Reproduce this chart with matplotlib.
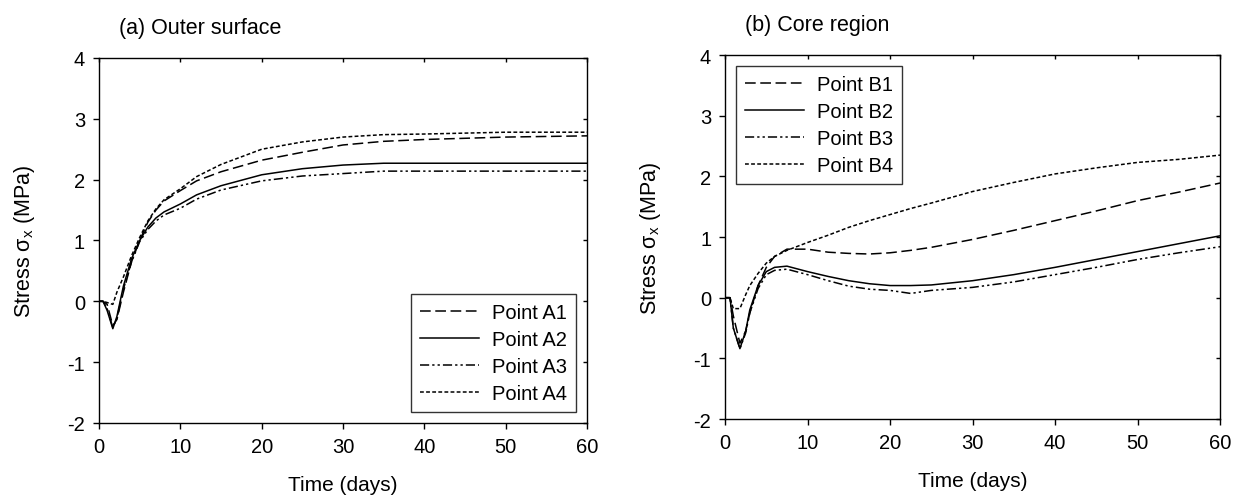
import matplotlib
matplotlib.use("Agg")
import matplotlib.pyplot as plt

plt.rcParams["font.family"] = ["Liberation Sans", "DejaVu Sans"]
plt.rcParams["mathtext.fontset"] = "custom"
plt.rcParams["mathtext.rm"] = "Liberation Sans"
plt.rcParams["mathtext.it"] = "Liberation Sans"
plt.rcParams["axes.unicode_minus"] = False

# (a) outer surface
t_a = [0, 0.5, 1, 1.7, 2.2, 3, 4, 5, 6, 7, 8, 10, 12, 15, 20, 25, 30, 35, 40, 50, 60]
a1 = [0, 0, -0.05, -0.40, -0.30, 0.15, 0.65, 1.00, 1.30, 1.50, 1.65, 1.82, 1.98, 2.13, 2.32, 2.45, 2.57, 2.63, 2.66, 2.70, 2.72]
a2 = [0, 0, -0.15, -0.45, -0.25, 0.25, 0.70, 1.00, 1.22, 1.37, 1.47, 1.60, 1.75, 1.90, 2.08, 2.18, 2.24, 2.27, 2.27, 2.27, 2.27]
a3 = [0, 0, -0.12, -0.43, -0.28, 0.20, 0.65, 0.98, 1.18, 1.32, 1.42, 1.53, 1.68, 1.83, 1.98, 2.06, 2.10, 2.14, 2.14, 2.14, 2.14]
a4 = [0, 0, -0.02, -0.05, 0.15, 0.40, 0.75, 1.05, 1.32, 1.52, 1.67, 1.85, 2.05, 2.25, 2.50, 2.62, 2.70, 2.74, 2.75, 2.78, 2.78]

# (b) core region
t_b = [0, 0.6, 1, 1.8, 2.5, 3, 4, 5, 6, 7.5, 10, 12.5, 15, 17.5, 20, 22.5, 25, 30, 35, 40, 45, 50, 55, 60]
b1 = [0, 0, -0.30, -0.75, -0.55, -0.25, 0.20, 0.50, 0.68, 0.80, 0.80, 0.75, 0.73, 0.72, 0.74, 0.78, 0.83, 0.96, 1.11, 1.27, 1.43, 1.60, 1.74, 1.89]
b2 = [0, 0, -0.50, -0.84, -0.55, -0.20, 0.20, 0.43, 0.50, 0.52, 0.43, 0.35, 0.28, 0.23, 0.20, 0.20, 0.21, 0.28, 0.38, 0.50, 0.63, 0.76, 0.89, 1.02]
b3 = [0, 0, -0.50, -0.84, -0.58, -0.25, 0.15, 0.38, 0.45, 0.47, 0.38, 0.28, 0.19, 0.14, 0.12, 0.07, 0.12, 0.17, 0.26, 0.38, 0.50, 0.63, 0.74, 0.84]
b4 = [0, 0, -0.18, -0.18, 0.05, 0.20, 0.40, 0.57, 0.68, 0.78, 0.91, 1.03, 1.16, 1.27, 1.37, 1.47, 1.56, 1.75, 1.90, 2.04, 2.14, 2.23, 2.28, 2.35]

styles = [(0, (7, 3)), "-", (0, (6, 2, 1.5, 2, 1.5, 2)), (0, (2.5, 1.5))]

fig = plt.figure(figsize=(12.39, 5.02), dpi=100)
ax_a = fig.add_axes([0.0799, 0.1554, 0.3939, 0.7271])
ax_b = fig.add_axes([0.5852, 0.1633, 0.3995, 0.7251])


def draw(ax, t, series, names, title, loc):
    for y, ls, name in zip(series, styles, names):
        ax.plot(t, y, color="black", lw=1.1, linestyle=ls, label=name)
    ax.set_xlim(0, 60)
    ax.set_ylim(-2, 4)
    ax.set_xticks(range(0, 61, 10))
    ax.set_yticks(range(-2, 5))
    ax.tick_params(direction="out", length=4, width=1, labelsize=14.5, pad=6)
    ax.tick_params(top=True, right=True)
    # small inward ticks on the top and right spines
    for tk in ax.xaxis.get_major_ticks():
        tk.tick2line.set_marker(3)
        tk.tick2line.set_markersize(3)
    for tk in ax.yaxis.get_major_ticks():
        tk.tick2line.set_marker(0)
        tk.tick2line.set_markersize(3)
    for s in ax.spines.values():
        s.set_linewidth(1)
    ax.set_xlabel("Time (days)", fontsize=15, labelpad=14)
    ax.set_ylabel("Stress σ$_{\\rm x}$ (MPa)", fontsize=15.5, labelpad=22)
    ax.set_title(title, loc="left", fontsize=15.5, x=0.04, y=1.045)
    leg = ax.legend(loc=loc, fontsize=14.5, frameon=True, fancybox=False,
                    edgecolor="black", handlelength=2.9, handletextpad=0.65,
                    borderpad=0.45, labelspacing=0.4, borderaxespad=0.55)
    leg.get_frame().set_linewidth(1)


draw(ax_a, t_a, [a1, a2, a3, a4], ["Point A1", "Point A2", "Point A3", "Point A4"],
     "(a) Outer surface", "lower right")
draw(ax_b, t_b, [b1, b2, b3, b4], ["Point B1", "Point B2", "Point B3", "Point B4"],
     "(b) Core region", "upper left")

fig.savefig("out.png", dpi=100)
